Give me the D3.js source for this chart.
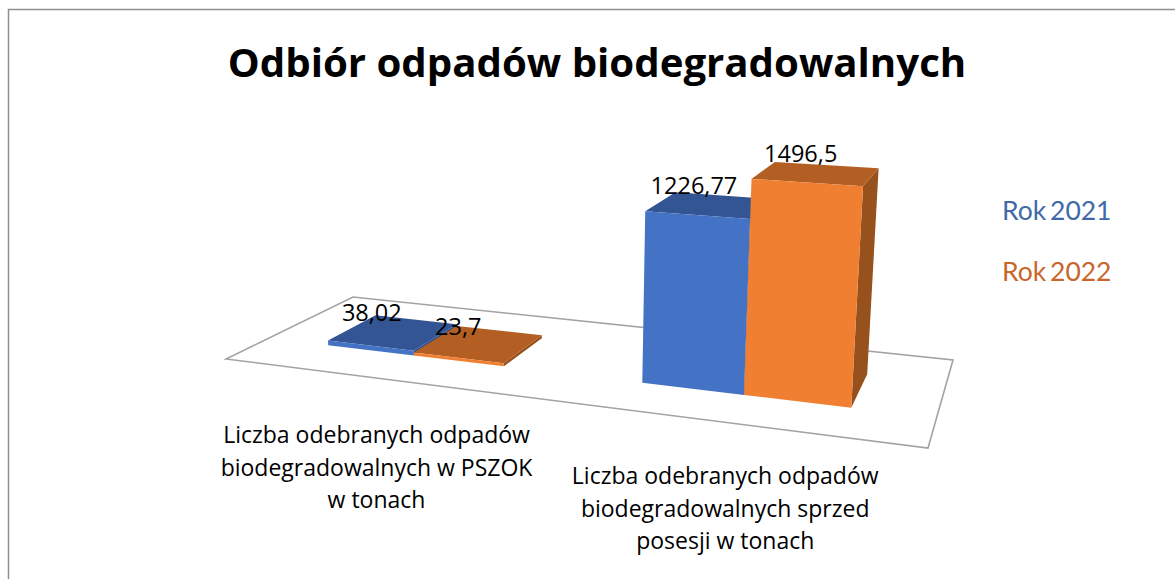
<!DOCTYPE html>
<html>
<head>
<meta charset="utf-8">
<script src="https://cdnjs.cloudflare.com/ajax/libs/d3/7.8.5/d3.min.js"></script>
<style>
  html, body { margin: 0; padding: 0; background: #fff; overflow: hidden; }
  text { fill: #000; font-family: "Open Sans", "Noto Sans", sans-serif; }
</style>
</head>
<body>
<div id="chart"></div>
<script>
const categories = ["pszok", "posesja"];
const categoryLines = [
  ["Liczba odebranych odpadów", "biodegradowalnych w PSZOK", "w tonach"],
  ["Liczba odebranych odpadów", "biodegradowalnych sprzed", "posesji w tonach"]
];
const seriesNames = ["Rok 2021", "Rok 2022"];
const values2021 = [38.02, 1226.77];
const values2022 = [23.7, 1496.5];

const width = 1175;
const height = 579;

// colours per series: front, top, side
const faceColors = [
  { front: "#4472c4", top: "#345593", side: "#2f4d85" },
  { front: "#f07f31", top: "#b35e22", side: "#97511c" }
];
const legendColors = ["#4169a8", "#c9662b"];

// small hand offsets for the data labels, same order as the bars
const labelNudge = [[-22, -19], [-21, -17], [-17, -19], [-16, -20]];

let svg = d3.select("#chart")
    .append("svg")
    .attr("width", width)
    .attr("height", height);

// chart frame, only left and top show inside the crop
svg.append("path")
    .attr("d", `M8.5,${height} L8.5,9.5 L${width},9.5`)
    .attr("fill", "none")
    .attr("stroke", "#8f8f8f")
    .attr("stroke-width", 1.5);

svg.append("text")
    .attr("x", 597)
    .attr("y", 77)
    .style("text-anchor", "middle")
    .style("font-size", "40.2px")
    .style("font-weight", 700)
    .text("Odbiór odpadów biodegradowalnych");

// scales work on the floor of the 3d box: u goes left to right, v front to back
let x0 = d3.scaleBand()
    .domain(categories)
    .range([0, 0.995])
    .paddingInner(0.42)
    .paddingOuter(0.21);

let x1 = d3.scaleBand()
    .domain(seriesNames)
    .range([0, x0.bandwidth()]);

let depth = d3.scaleBand()
    .domain(["bars"])
    .range([0, 1])
    .padding(0.4286);

let y = d3.scaleLinear()
    .domain([0, 1500])
    .range([0, -0.0332]);

// perspective: floor corners on screen and the vanishing point of the verticals
const corners = { fl: [226, 359], fr: [928, 448], br: [953, 360], bl: [353, 297] };
const vanish = [542, 6226];

function makeFloor(c) {
  let dx1 = c.fr[0] - c.br[0], dx2 = c.bl[0] - c.br[0];
  let dy1 = c.fr[1] - c.br[1], dy2 = c.bl[1] - c.br[1];
  let sx = c.fl[0] - c.fr[0] + c.br[0] - c.bl[0];
  let sy = c.fl[1] - c.fr[1] + c.br[1] - c.bl[1];
  let det = dx1 * dy2 - dx2 * dy1;
  let g = (sx * dy2 - dx2 * sy) / det;
  let h = (dx1 * sy - sx * dy1) / det;
  return {
    a: c.fr[0] - c.fl[0] + g * c.fr[0], b: c.bl[0] - c.fl[0] + h * c.bl[0], c: c.fl[0],
    d: c.fr[1] - c.fl[1] + g * c.fr[1], e: c.bl[1] - c.fl[1] + h * c.bl[1], f: c.fl[1],
    g: g, h: h
  };
}
const floor = makeFloor(corners);

function project(u, v, value) {
  let k = y(value);
  let X = floor.a * u + floor.b * v + floor.c + k * vanish[0];
  let Y = floor.d * u + floor.e * v + floor.f + k * vanish[1];
  let W = floor.g * u + floor.h * v + 1 + k;
  return [X / W, Y / W];
}

let line = d3.line().curve(d3.curveLinearClosed);

svg.append("path")
    .attr("d", line([[0, 0], [1, 0], [1, 1], [0, 1]].map(function(p) { return project(p[0], p[1], 0); })))
    .attr("fill", "none")
    .attr("stroke", "#a3a3a3")
    .attr("stroke-width", 1.6);

// one record per bar with its box in floor coordinates
let bars = [];
categories.forEach(function(cat, i) {
  [values2021, values2022].forEach(function(vals, s) {
    let u0 = x0(cat) + x1(seriesNames[s]);
    let v0 = depth("bars");
    bars.push({
      series: s,
      value: vals[i],
      u0: u0,
      u1: u0 + x1.bandwidth(),
      v0: v0,
      v1: v0 + depth.bandwidth()
    });
  });
});

function face(d, pts) {
  return line(pts.map(function(p) { return project(p[0], p[1], p[2]); }));
}

let barGroups = svg.selectAll("g.bar").data(bars)
    .enter()
    .append("g")
    .attr("class", "bar");

barGroups.append("path")
    .attr("fill", function(d) { return faceColors[d.series].side; })
    .attr("d", function(d) {
      return face(d, [[d.u1, d.v0, 0], [d.u1, d.v1, 0], [d.u1, d.v1, d.value], [d.u1, d.v0, d.value]]);
    });

barGroups.append("path")
    .attr("fill", function(d) { return faceColors[d.series].top; })
    .attr("d", function(d) {
      return face(d, [[d.u0, d.v0, d.value], [d.u1, d.v0, d.value], [d.u1, d.v1, d.value], [d.u0, d.v1, d.value]]);
    });

barGroups.append("path")
    .attr("fill", function(d) { return faceColors[d.series].front; })
    .attr("d", function(d) {
      return face(d, [[d.u0, d.v0, 0], [d.u1, d.v0, 0], [d.u1, d.v0, d.value], [d.u0, d.v0, d.value]]);
    });

// data labels sit over the top face of each bar
svg.selectAll("text.value").data(bars)
    .enter()
    .append("text")
    .attr("class", "value")
    .attr("x", function(d, i) { return project((d.u0 + d.u1) / 2, (d.v0 + d.v1) / 2, d.value)[0] + labelNudge[i][0]; })
    .attr("y", function(d, i) { return project((d.u0 + d.u1) / 2, (d.v0 + d.v1) / 2, d.value)[1] + labelNudge[i][1]; })
    .attr("dy", "0.35em")
    .style("text-anchor", "middle")
    .style("font-size", "23.5px")
    .text(function(d) { return String(d.value).replace(".", ","); });

// category labels hang under the front edge of the floor
const catNudge = [[-1, 65], [1, 62]];
let catLabels = svg.selectAll("text.cat").data(categories)
    .enter()
    .append("text")
    .attr("class", "cat")
    .style("text-anchor", "middle")
    .style("font-size", "23px")
    .attr("transform", function(d, i) {
      let p = project(x0(d) + x0.bandwidth() / 2, 0, 0);
      return `translate(${p[0] + catNudge[i][0]}, ${p[1] + catNudge[i][1]})`;
    });

catLabels.selectAll("tspan")
    .data(function(d, i) { return categoryLines[i]; })
    .enter()
    .append("tspan")
    .attr("x", 0)
    .attr("y", function(d, i) { return i * 32.5; })
    .text(function(d) { return d; });

svg.selectAll("text.legend").data(seriesNames)
    .enter()
    .append("text")
    .attr("class", "legend")
    .attr("x", 1002)
    .attr("y", function(d, i) { return 220 + i * 61; })
    .style("font-family", "Lato, sans-serif")
    .style("font-size", "26.5px")
    .style("word-spacing", "-3px")
    .style("fill", function(d, i) { return legendColors[i]; })
    .text(function(d) { return d; });
</script>
</body>
</html>
